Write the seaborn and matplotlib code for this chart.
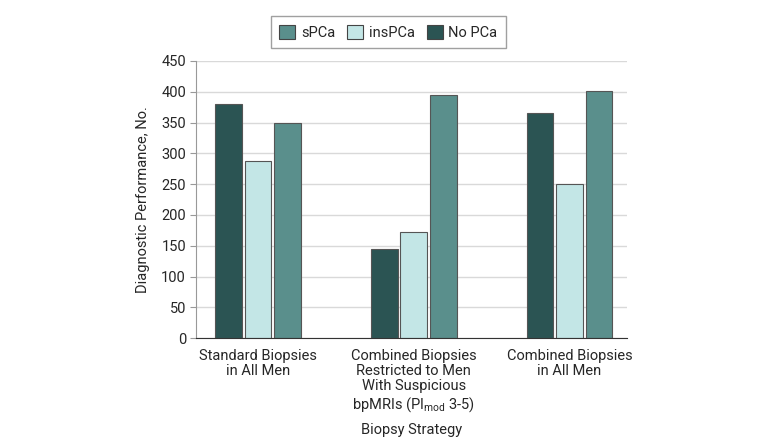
import pandas as pd
import matplotlib
matplotlib.use("Agg")
import matplotlib.pyplot as plt
import seaborn as sns

# data
strategies = [
    "Standard Biopsies\nin All Men",
    "Combined Biopsies\nRestricted to Men\nWith Suspicious\nbpMRIs ($\\mathregular{PI_{mod}}$ 3-5)",
    "Combined Biopsies\nin All Men",
]
no_pca = [380, 145, 365]
ins_pca = [287, 172, 250]
s_pca = [350, 395, 402]

outcomes = ["No PCa", "insPCa", "sPCa"]
palette = {"No PCa": "#2b5453", "insPCa": "#c3e6e6", "sPCa": "#5a8f8c"}

df = pd.DataFrame({
    "strategy": strategies * 3,
    "outcome": ["No PCa"] * 3 + ["insPCa"] * 3 + ["sPCa"] * 3,
    "value": no_pca + ins_pca + s_pca,
})

sns.set_style("white")
plt.rcParams["font.family"] = ["Roboto", "DejaVu Sans"]

fig = plt.figure(figsize=(7.8, 4.45), dpi=100)
ax = fig.add_axes([0.251, 0.240, 0.553, 0.623])

sns.barplot(data=df, x="strategy", y="value", hue="outcome", order=strategies,
            hue_order=outcomes, palette=palette, saturation=1, width=0.57, gap=0.1,
            edgecolor="#555555", linewidth=0.8, ax=ax, legend=False)

ax.set_ylim(0, 450)
ax.set_yticks(range(0, 451, 50))
ax.set_xlim(-0.4, 2.37)
ax.yaxis.grid(True, color="#d9d9d9", linewidth=1)
ax.set_axisbelow(True)
for side in ["top", "right"]:
    ax.spines[side].set_visible(False)
ax.spines["left"].set_color("#999999")
ax.spines["bottom"].set_color("#333333")
ax.tick_params(axis="y", left=True, length=4, color="#999999", labelsize=10.5, pad=3)
ax.tick_params(axis="x", bottom=False, labelsize=10.5, pad=4)
for lbl in ax.get_xticklabels():
    lbl.set_linespacing(1.12)
ax.set_ylabel("Diagnostic Performance, No.", fontsize=10.5, labelpad=8)
ax.set_xlabel("Biopsy Strategy", fontsize=10.5, labelpad=7)

handles = [plt.Rectangle((0, 0), 1, 1, facecolor=palette[k], edgecolor="#444444",
                         linewidth=0.8) for k in ["sPCa", "insPCa", "No PCa"]]
fig.legend(handles, ["sPCa", "insPCa", "No PCa"], loc="center",
           bbox_to_anchor=(0.498, 0.928), ncol=3, frameon=True, fancybox=False,
           edgecolor="#888888", fontsize=10.5, handlelength=1.1, handleheight=1.1,
           columnspacing=0.8, handletextpad=0.4, borderpad=0.6)

fig.savefig("out.png", dpi=100)
